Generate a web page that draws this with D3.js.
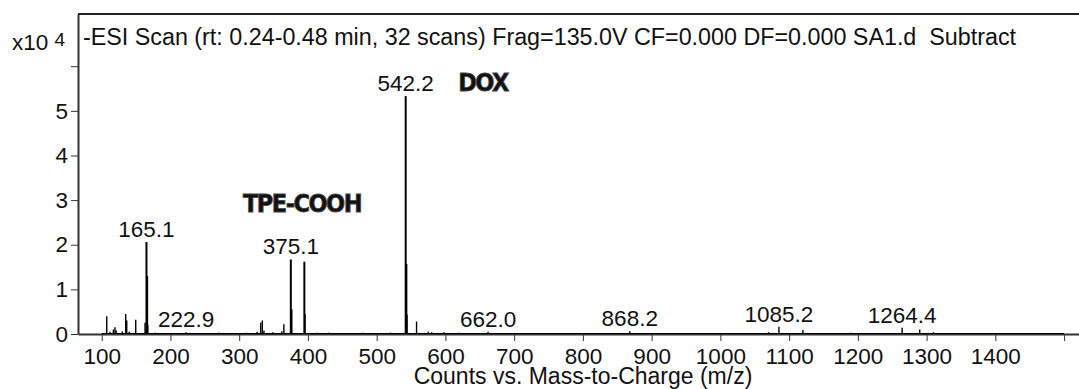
<!DOCTYPE html>
<html>
<head>
<meta charset="utf-8">
<script src="https://cdn.jsdelivr.net/npm/d3@7"></script>
<style>
  body { margin: 0; background: #fff; }
  svg { display: block; font-family: "Liberation Sans", Arial, sans-serif; }
</style>
</head>
<body>
<div id="chart"></div>
<script>
// peak list: m/z and counts (x10^4)
const peakMz = [107.3, 112, 117, 119.3, 121, 130, 134.9, 136.4, 140, 149.5, 163, 165.1, 166.1, 167, 178,
  200, 222.9, 250, 270, 290, 310, 326, 331.3, 333.6, 336, 349, 362, 365, 375.1, 376.1, 394.8, 395.8,
  413, 430, 480, 520, 542.2, 543.2, 544.2, 558, 575, 580, 598, 620, 662.0, 700, 760, 820, 868.2,
  940, 1000, 1070, 1085.2, 1120, 1190, 1230, 1264.4, 1290, 1310, 1340, 1400, 1460];
const peakCounts = [0.40, 0.05, 0.10, 0.15, 0.08, 0.06, 0.45, 0.30, 0.05, 0.32, 0.25, 2.06, 1.30, 0.20, 0.03,
  0.02, 0.04, 0.02, 0.03, 0.02, 0.03, 0.05, 0.25, 0.30, 0.08, 0.04, 0.06, 0.22, 1.67, 0.55, 1.62, 0.45,
  0.03, 0.03, 0.03, 0.03, 5.33, 1.57, 0.43, 0.28, 0.05, 0.04, 0.04, 0.03, 0.05, 0.02, 0.02, 0.02, 0.06,
  0.02, 0.02, 0.04, 0.16, 0.09, 0.03, 0.02, 0.14, 0.10, 0.04, 0.02, 0.02, 0.02];

// labelled peaks
const labelMz = [165.1, 222.9, 375.1, 542.2, 662.0, 868.2, 1085.2, 1264.4];
const labelText = ["165.1", "222.9", "375.1", "542.2", "662.0", "868.2", "1085.2", "1264.4"];

const xTicks = d3.range(100, 1501, 100);
const yTicks = [0, 1, 2, 3, 4, 5, 6];

const title = "-ESI Scan (rt: 0.24-0.48 min, 32 scans) Frag=135.0V CF=0.000 DF=0.000 SA1.d  Subtract";

const width = 1079, height = 389;
const plotLeft = 78, plotTop = 14, plotBottom = 334;

const svg = d3.select("#chart").append("svg")
  .attr("width", width)
  .attr("height", height);

const x = d3.scaleLinear().domain([65.5, 1521.7]).range([plotLeft, width]);
const y = d3.scaleLinear().domain([0, 7.17]).range([plotBottom, plotTop]);

// x axis
const xAxis = d3.axisBottom(x)
  .tickValues(xTicks)
  .tickSize(7)
  .tickSizeOuter(0)
  .tickFormat(d => d < 1500 ? d : "");
const gx = svg.append("g")
  .attr("transform", `translate(0,${plotBottom})`)
  .call(xAxis);
gx.attr("font-family", null);
gx.select(".domain").attr("stroke", "#333").attr("stroke-width", 2);
gx.selectAll(".tick line").attr("stroke", "#333");
gx.selectAll(".tick text").attr("font-size", 22.5).attr("fill", "#111").attr("dy", "0.88em");

// y axis
const yAxis = d3.axisLeft(y)
  .tickValues(yTicks)
  .tickSize(7)
  .tickSizeOuter(0)
  .tickFormat(d => d <= 5 ? d : "");
const gy = svg.append("g")
  .attr("transform", `translate(${plotLeft},0)`)
  .call(yAxis);
gy.attr("font-family", null);
gy.select(".domain").attr("stroke", "#333").attr("stroke-width", 2);
gy.selectAll(".tick line").attr("stroke", "#333");
gy.selectAll(".tick text").attr("font-size", 22.5).attr("fill", "#111").attr("x", -10);

// top frame line
svg.append("line")
  .attr("x1", plotLeft).attr("x2", width)
  .attr("y1", plotTop).attr("y2", plotTop)
  .attr("stroke", "#222").attr("stroke-width", 2);

// exponent label
const expo = svg.append("text")
  .attr("x", 12).attr("y", 50)
  .attr("font-size", 22.5)
  .attr("fill", "#111");
expo.append("tspan").text("x10 ");
expo.append("tspan").attr("font-size", 19).attr("dy", -4).text("4");

// scan title
svg.append("text")
  .attr("x", 83).attr("y", 45)
  .attr("font-size", 23.3)
  .attr("fill", "#111")
  .style("white-space", "pre")
  .text(title);

// baseline trace
svg.append("line")
  .attr("x1", x(100)).attr("x2", x(1500))
  .attr("y1", y(0) - 0.5).attr("y2", y(0) - 0.5)
  .attr("stroke", "#000").attr("stroke-width", 1.2);

// peaks
svg.append("g").selectAll("line")
  .data(peakMz)
  .enter()
  .append("line")
  .attr("x1", d => x(d)).attr("x2", d => x(d))
  .attr("y1", y(0))
  .attr("y2", (d, i) => y(peakCounts[i]))
  .attr("stroke", "#000")
  .attr("stroke-width", (d, i) => peakCounts[i] > 0.5 ? 2 : 1.4);

// peak labels
svg.append("g").selectAll("text")
  .data(labelMz)
  .enter()
  .append("text")
  .attr("x", d => x(d))
  .attr("y", d => {
    const h = peakCounts[peakMz.indexOf(d)];
    return y(h) - 5;
  })
  .attr("text-anchor", "middle")
  .attr("font-size", 22.5)
  .attr("fill", "#111")
  .text((d, i) => labelText[i]);

// compound annotations
const compounds = [
  { name: "TPE-COOH", mz: 391.4, val: 2.74 },
  { name: "DOX", mz: 654.7, val: 5.45 }
];
svg.append("g").selectAll("text")
  .data(compounds)
  .enter()
  .append("text")
  .attr("x", d => x(d.mz))
  .attr("y", d => y(d.val))
  .attr("text-anchor", "middle")
  .attr("font-family", "'DejaVu Sans Condensed', 'DejaVu Sans', sans-serif")
  .attr("font-weight", "bold")
  .attr("font-size", 25)
  .attr("letter-spacing", -1.5)
  .attr("fill", "#111")
  .attr("stroke", "#444")
  .attr("stroke-width", 0.8)
  .text(d => d.name);

// x axis title
svg.append("text")
  .attr("x", 583).attr("y", 384)
  .attr("text-anchor", "middle")
  .attr("font-size", 23)
  .attr("fill", "#111")
  .text("Counts vs. Mass-to-Charge (m/z)");
</script>
</body>
</html>
